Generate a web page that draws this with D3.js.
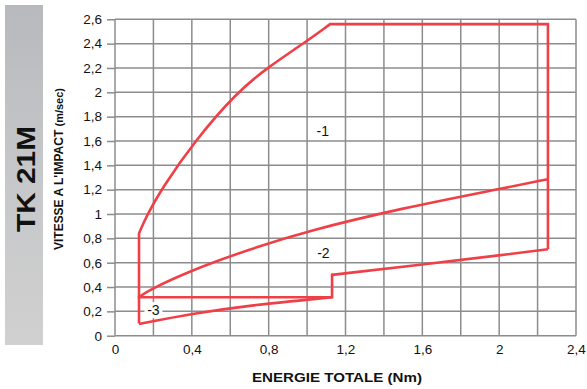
<!DOCTYPE html>
<html>
<head>
<meta charset="utf-8">
<script src="https://cdn.jsdelivr.net/npm/d3@7"></script>
<style>
  body { margin: 0; background: #fff; }
  text { font-family: "Liberation Sans", Arial, sans-serif; }
</style>
</head>
<body>
<script>
// size of the picture
const width = 587;
const height = 389;

// axis ticks
const xTicks = [0, 0.4, 0.8, 1.2, 1.6, 2, 2.4];
const xGrid = [0, 0.2, 0.4, 0.6, 0.8, 1, 1.2, 1.4, 1.6, 1.8, 2, 2.2, 2.4];
const yTicks = [0, 0.2, 0.4, 0.6, 0.8, 1, 1.2, 1.4, 1.6, 1.8, 2, 2.2, 2.4, 2.6];

// outer envelope (energy Nm, speed m/s)
const leftEdge = [[0.125, 0.1], [0.125, 0.84]];
const upperCurve = [[0.125, 0.84], [0.16, 0.97], [0.243, 1.21], [0.42, 1.61],
  [0.634, 2.0], [0.8, 2.21], [0.98, 2.4], [1.12, 2.56]];
const topRight = [[1.12, 2.56], [2.254, 2.56], [2.254, 0.71]];
const lowerRight = [[1.13, 0.5], [1.6, 0.585], [2.0, 0.66], [2.254, 0.71]];
const step = [[1.13, 0.5], [1.13, 0.316], [0.125, 0.316]];

// inner limits
const curve2 = [[0.125, 0.316], [0.17, 0.37], [0.4, 0.54], [0.7, 0.71],
  [1.0, 0.86], [1.5, 1.05], [2.0, 1.205], [2.254, 1.286]];
const curve3 = [[0.125, 0.096], [0.4, 0.18], [0.7, 0.25], [1.13, 0.316]];

// zone labels
const zoneNames = ["-1", "-2", "-3"];
const zoneAt = [[1.082, 1.685], [1.085, 0.68], [0.2, 0.21]];

const x = d3.scaleLinear().domain([0, 2.4]).range([115, 576]);
const y = d3.scaleLinear().domain([0, 2.6]).range([335.7, 19.3]);
const fmt = d => String(d).replace(".", ",");

let c = d3.select("body").append("svg")
  .attr("width", width)
  .attr("height", height);

// grey side panel with the model name
let grad = c.append("defs").append("linearGradient")
  .attr("id", "panel")
  .attr("x1", 0).attr("y1", 0).attr("x2", 0).attr("y2", 1);
grad.append("stop").attr("offset", "0%").attr("stop-color", "#b7b9bc");
grad.append("stop").attr("offset", "50%").attr("stop-color", "#c6c7c9");
grad.append("stop").attr("offset", "100%").attr("stop-color", "#d0d0d0");

c.append("rect")
  .attr("x", 5).attr("y", 5)
  .attr("width", 38).attr("height", 340)
  .attr("fill", "url(#panel)");

c.append("text")
  .attr("transform", "translate(35,179) rotate(-90)")
  .attr("text-anchor", "middle")
  .attr("font-size", 25)
  .attr("font-weight", "bold")
  .attr("textLength", 106)
  .attr("lengthAdjust", "spacingAndGlyphs")
  .attr("fill", "#111")
  .text("TK 21M");

// grid
c.append("g").selectAll("line").data(xGrid).join("line")
  .attr("x1", d => x(d)).attr("x2", d => x(d))
  .attr("y1", y(2.6)).attr("y2", y(0))
  .attr("stroke", "#8c8c8c").attr("stroke-width", 1.5);

c.append("g").selectAll("line").data(yTicks).join("line")
  .attr("x1", x(0)).attr("x2", x(2.4))
  .attr("y1", d => y(d)).attr("y2", d => y(d))
  .attr("stroke", "#8c8c8c").attr("stroke-width", 1.5);

// axes
let yAxis = c.append("g")
  .attr("transform", "translate(" + x(0) + ",0)")
  .call(d3.axisLeft(y).tickValues(yTicks).tickFormat(fmt).tickSize(8).tickSizeOuter(0).tickPadding(5));
yAxis.select(".domain").remove();
yAxis.selectAll("line").attr("stroke", "#8c8c8c").attr("stroke-width", 1.5);
yAxis.selectAll("text").attr("font-size", 13.5).attr("fill", "#111")
  .style("font-family", "'Liberation Sans', Arial, sans-serif");

let xAxis = c.append("g")
  .attr("transform", "translate(0," + y(0) + ")")
  .call(d3.axisBottom(x).tickValues(xTicks).tickFormat(fmt).tickSize(0).tickPadding(9));
xAxis.select(".domain").remove();
xAxis.selectAll("text").attr("font-size", 13.5).attr("fill", "#111")
  .style("font-family", "'Liberation Sans', Arial, sans-serif");

// axis titles
let yTitle = c.append("text")
  .attr("transform", "translate(63,169) rotate(-90)")
  .attr("text-anchor", "middle")
  .attr("font-weight", "900")
  .attr("font-size", 12)
  .attr("textLength", 162)
  .attr("lengthAdjust", "spacingAndGlyphs")
  .attr("fill", "#111");
yTitle.append("tspan").text("VITESSE A L'IMPACT ");
yTitle.append("tspan").attr("font-size", 11).text("(m/sec)");

c.append("text")
  .attr("x", 337).attr("y", 382)
  .attr("text-anchor", "middle")
  .attr("font-weight", "900")
  .attr("font-size", 13)
  .attr("textLength", 170)
  .attr("lengthAdjust", "spacingAndGlyphs")
  .attr("fill", "#111")
  .text("ENERGIE TOTALE (Nm)");

// red limits
const straight = d3.line().x(d => x(d[0])).y(d => y(d[1]));
const smooth = d3.line().x(d => x(d[0])).y(d => y(d[1])).curve(d3.curveBasis);
const cont = s => "L" + s.slice(1);

let red = "#ef3f47";
c.append("path")
  .attr("d", straight(leftEdge) + cont(smooth(upperCurve)) + cont(straight(topRight)))
  .attr("fill", "none").attr("stroke", red).attr("stroke-width", 2.6)
  .attr("stroke-linejoin", "miter");

c.append("path")
  .attr("d", smooth(lowerRight))
  .attr("fill", "none").attr("stroke", red).attr("stroke-width", 2.6);

c.append("path")
  .attr("d", straight(step))
  .attr("fill", "none").attr("stroke", red).attr("stroke-width", 2.6)
  .attr("stroke-linecap", "square");

c.append("path")
  .attr("d", smooth(curve2))
  .attr("fill", "none").attr("stroke", red).attr("stroke-width", 2.6);

c.append("path")
  .attr("d", smooth(curve3))
  .attr("fill", "none").attr("stroke", red).attr("stroke-width", 2.6);

// zone labels on white
let zones = c.append("g").selectAll("g").data(zoneNames).join("g")
  .attr("transform", (d, i) => "translate(" + x(zoneAt[i][0]) + "," + y(zoneAt[i][1]) + ")");
zones.append("rect")
  .attr("x", -9).attr("y", -8).attr("width", 18).attr("height", 16)
  .attr("fill", "#fff");
zones.append("text")
  .attr("text-anchor", "middle")
  .attr("dy", "0.36em")
  .attr("font-size", 14)
  .attr("fill", "#111")
  .text(d => d);
</script>
</body>
</html>
